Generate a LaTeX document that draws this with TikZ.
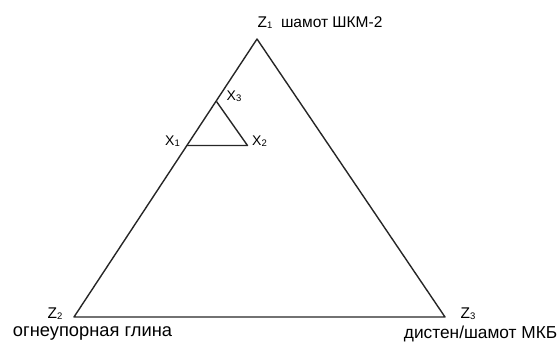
\documentclass[tikz,border=0pt]{standalone}
\usepackage{fontspec}
\setmainfont{Liberation Sans}
\begin{document}
\begin{tikzpicture}[x=1pt,y=-1pt,
  edge/.style={draw=black!85,line width=1.4pt,line join=round},
  zlab/.style={inner sep=0pt,font=\fontsize{15.5}{18}\selectfont},
  clab/.style={inner sep=0pt,font=\fontsize{18.3}{21}\selectfont},
  xlab/.style={inner sep=0pt,font=\fontsize{14}{16}\selectfont}]
\useasboundingbox (0,0) rectangle (559,343);
\clip (0,0) rectangle (559,343);
\newcommand{\subd}[1]{\raisebox{-0.15ex}{\fontsize{9.5}{11}\selectfont #1}}
% vertices
\coordinate (Z1) at (257,39);
\coordinate (Z2) at (74,317);
\coordinate (Z3) at (445,317);
\coordinate (X1) at (187,145.5);
\coordinate (X2) at (247.5,145.5);
\coordinate (X3) at (216.5,101.5);
\draw[edge] (Z1) -- (Z2) -- (Z3) -- cycle;
\draw[edge] (X1) -- (X2) -- (X3);
% labels
\node[zlab,anchor=west] (lz1) at (257.5,22.5) {Z\subd{1}\ \ шамот ШКМ-2};
\node[zlab,anchor=west] (lz2) at (47.5,314) {Z\subd{2}};
\node[zlab,anchor=west] (lz3) at (460.5,314) {Z\subd{3}};
\node[clab] (c2) at (92.5,333.5) {огнеупорная глина};
\node[clab,anchor=east,font=\fontsize{17.3}{20}\selectfont] (c3) at (557.5,333.5) {дистен/шамот МКБ};
\node[xlab,anchor=west] (lx3) at (226.5,96.5) {X\subd{3}};
\node[xlab,anchor=west] (lx1) at (165,141.5) {X\subd{1}};
\node[xlab,anchor=west] (lx2) at (252,141) {X\subd{2}};
\node[clab] (cap) at (287,350) {а};
\end{tikzpicture}
\end{document}
